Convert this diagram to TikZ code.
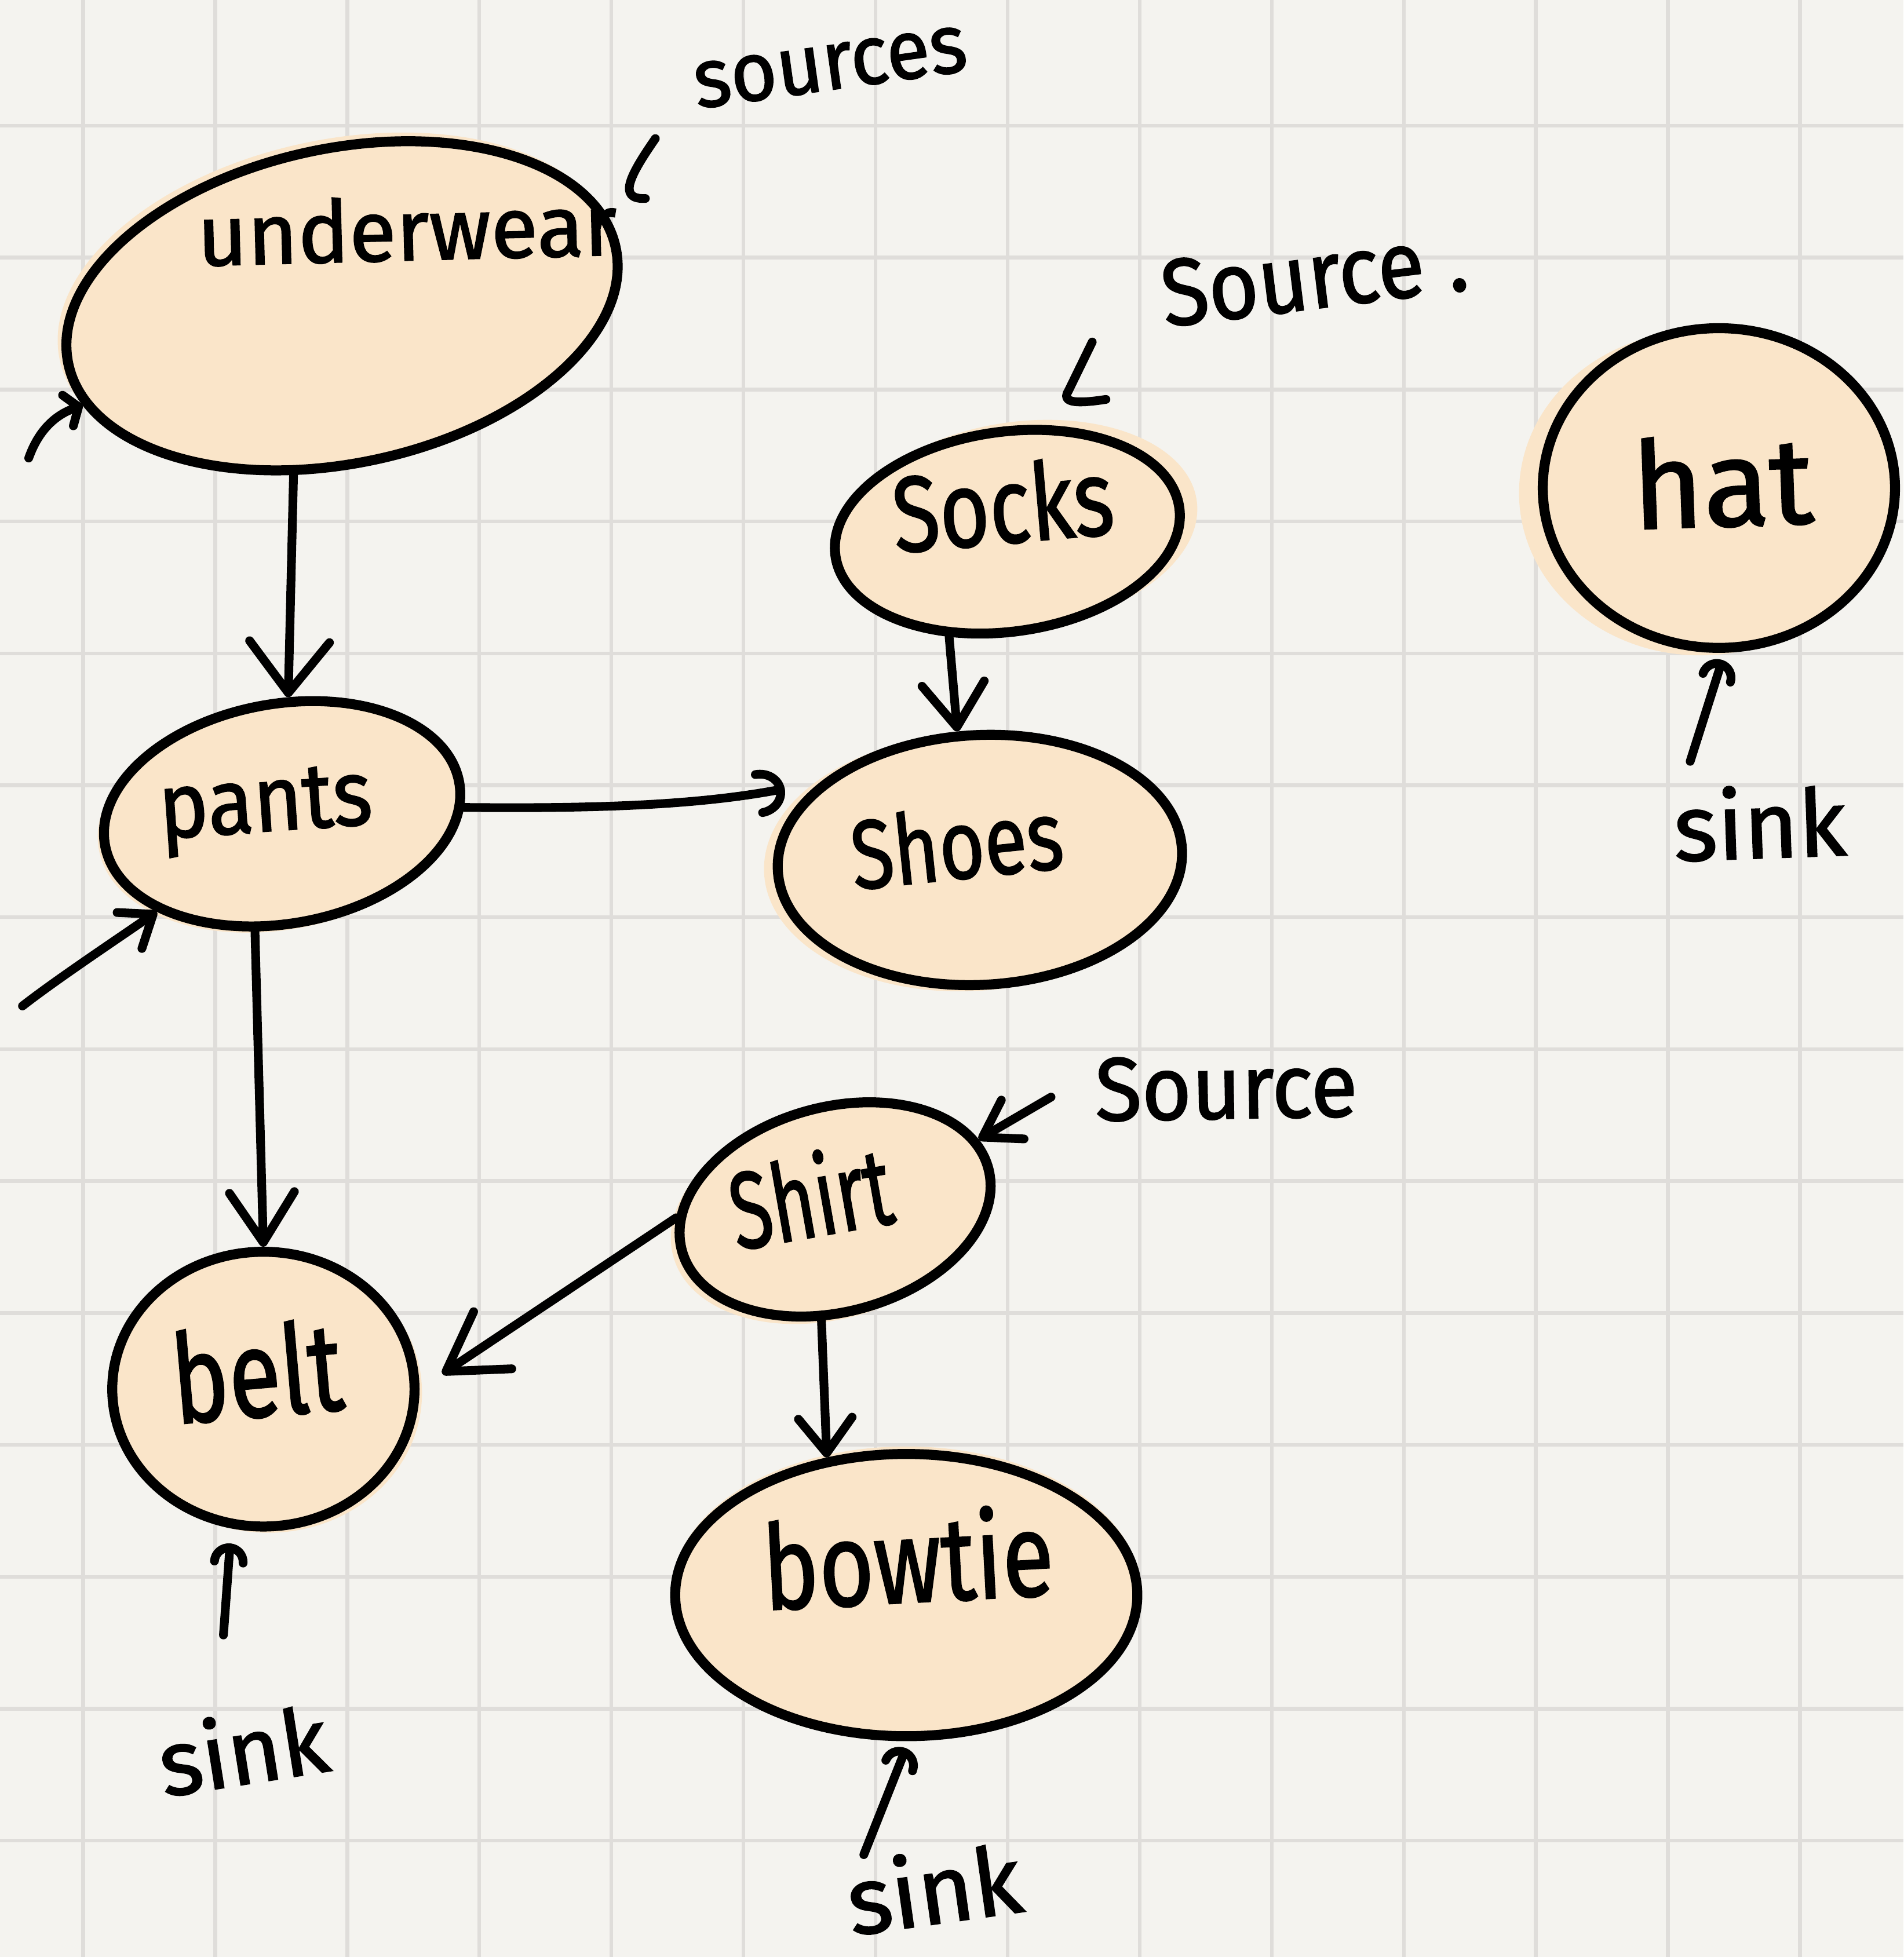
\documentclass[tikz,border=0pt]{standalone}
\usepackage{fontspec}
\setmainfont{Fira Sans}
\newfontfamily\handfont{Fira Sans}[FakeBold=1.5]
\usepackage{graphicx}
\usetikzlibrary{arrows.meta,shapes.geometric,calc}

\definecolor{paper}{HTML}{F4F3EF}
\definecolor{gridgray}{HTML}{DFDDDA}
\definecolor{peach}{HTML}{FAE5C9}

% a word set to a given width, stretched upright by a factor
\newcommand{\handtext}[3]{\scalebox{1}[#2]{\resizebox{#1}{!}{\handfont #3}}}

\tikzset{
  gridline/.style={draw=gridgray, line width=0.03cm},
  wash/.style={ellipse, fill=peach, inner sep=0pt, outer sep=0pt},
  outline/.style={ellipse, draw=black, fill=peach, line width=0.08cm, inner sep=0pt},
  ink/.style={draw=black, line width=0.07cm, line cap=round, line join=round},
  barb/.style 2 args={-{Straight Barb[length=#1,width=#2,round]}},
  arcbarb/.style 2 args={-{Arc Barb[length=#1,width=#2,round]}},
  word/.style={inner sep=0pt, anchor=base west, text=black},
}

\begin{document}
\begin{tikzpicture}[x=0.01cm, y=-0.01cm]
  % paper and grid
  \fill[paper] (0,0) rectangle (1525,1568);
  \useasboundingbox (0,0) rectangle (1525,1568);
  \foreach \k in {0,...,13} {
    \draw[gridline] ({66.6+105.8*\k},0) -- ({66.6+105.8*\k},1568);
    \draw[gridline] (0,{100.7+105.7*\k}) -- (1525,{100.7+105.7*\k});
  }

  % marker wash under each garment
  \node[wash, minimum width=4.54cm, minimum height=2.58cm, rotate=12] (underwear-wash) at (270,241) {};
  \node[wash, minimum width=2.92cm, minimum height=1.80cm, rotate=10] (pants-wash) at (223,655) {};
  \node[wash, minimum width=2.86cm, minimum height=1.66cm, rotate=8] (socks-wash) at (817,421) {};
  \node[wash, minimum width=3.30cm, minimum height=2.06cm, rotate=3] (shoes-wash) at (777,691) {};
  \node[wash, minimum width=2.90cm, minimum height=2.60cm] (hat-wash) at (1362,395) {};
  \node[wash, minimum width=2.58cm, minimum height=1.68cm, rotate=15] (shirt-wash) at (664,973) {};
  \node[wash, minimum width=2.46cm, minimum height=2.24cm] (belt-wash) at (215,1116) {};
  \node[wash, minimum width=3.74cm, minimum height=2.30cm] (bowtie-wash) at (726,1274) {};

  % garments
  \node[outline, minimum width=4.48cm, minimum height=2.52cm, rotate=12] (underwear) at (274,245) {};
  \node[outline, minimum width=2.88cm, minimum height=1.76cm, rotate=10] (pants) at (226,652) {};
  \node[outline, minimum width=2.78cm, minimum height=1.60cm, rotate=8] (socks) at (807,426) {};
  \node[outline, minimum width=3.24cm, minimum height=2.00cm, rotate=3] (shoes) at (785,689) {};
  \node[outline, minimum width=2.82cm, minimum height=2.56cm] (hat) at (1377,391) {};
  \node[outline, minimum width=2.54cm, minimum height=1.64cm, rotate=15] (shirt) at (669,969) {};
  \node[outline, minimum width=2.42cm, minimum height=2.20cm] (belt) at (211,1113) {};
  \node[outline, minimum width=3.70cm, minimum height=2.26cm] (bowtie) at (726,1278) {};

  % dependencies
  \draw[ink, barb={4.1mm}{6.4mm}] (underwear.242) -- (pants.77);
  \draw[ink, arcbarb={2.1mm}{3.8mm}] (pants.-8) .. controls (480,648) and (560,645) .. ($(shoes.156)+(-18,-4)$);
  \draw[ink, barb={3.5mm}{5mm}] (socks.233) -- (shoes.97);
  \draw[ink, barb={4mm}{5.2mm}] (pants.247) -- (belt.90);
  \draw[ink, barb={4.5mm}{5.5mm}, shorten >=2.2mm] (shirt.168) -- (belt.0);
  \draw[ink, barb={2.8mm}{4.3mm}] (shirt.248) -- (bowtie.120);

  % incoming strokes on the left
  \coordinate (underwear-in) at (23,367);
  \coordinate (pants-in) at (18,806);
  \draw[ink, barb={0.9mm}{2.6mm}] (underwear-in) .. controls (29,350) and (40,334) .. (underwear.189);
  \draw[ink, barb={2.3mm}{3.5mm}] (pants-in) .. controls (45,785) and (90,755) .. (pants.208);

  % source pointers
  \coordinate (sources-tail) at (525,111);
  \draw[ink] (sources-tail) .. controls (505,140) and (494,160) .. (517,159);
  \coordinate (socks-source-tail) at (875,274);
  \draw[ink] (socks-source-tail) -- (856,313) .. controls (849,324) and (866,323) .. (886,320);
  \coordinate (shirt-source-tail) at (842,879);
  \draw[ink, barb={2.8mm}{3.6mm}] (shirt-source-tail) -- (shirt.11);

  % sink pointers
  \coordinate (hat-sink) at (1354,610);
  \draw[ink, arcbarb={1.5mm}{3mm}, shorten >=0.6mm] (hat-sink) -- (hat.272);
  \coordinate (belt-sink) at (179,1310);
  \draw[ink, arcbarb={1.5mm}{3mm}, shorten >=1.2mm] (belt-sink) -- (belt.257);
  \coordinate (bowtie-sink) at (692,1486);
  \draw[ink, arcbarb={1.5mm}{3mm}, shorten >=0.6mm] (bowtie-sink) -- (bowtie.271);

  % garment names
  \node[word, rotate=1.5] (underwear-label) at (158,213) {\handtext{3.36cm}{1}{underwear}};
  \node[word, rotate=4] (pants-label) at (128,672) {\handtext{1.71cm}{1.1}{pants}};
  \node[word, rotate=5] (socks-label) at (717,443) {\handtext{1.77cm}{1.25}{Socks}};
  \node[word, rotate=6] (shoes-label) at (684,713) {\handtext{1.70cm}{1.25}{Shoes}};
  \node[word, rotate=2] (hat-label) at (1308,424) {\handtext{1.45cm}{1}{hat}};
  \node[word, rotate=10] (shirt-label) at (590,1002) {\handtext{1.30cm}{1.45}{Shirt}};
  \node[word, rotate=5] (belt-label) at (140,1141) {\handtext{1.37cm}{1.3}{belt}};
  \node[word, rotate=3] (bowtie-label) at (612,1290) {\handtext{2.33cm}{1.25}{bowtie}};

  % notes
  \node[word, rotate=8] (sources-note) at (558,87) {\handtext{2.20cm}{1.05}{sources}};
  \node[word, rotate=7] (socks-note) at (933,262) {\handtext{2.46cm}{1.1}{Source .}};
  \node[word, rotate=1] (shirt-note) at (877,898) {\handtext{2.10cm}{1.05}{Source}};
  \node[word, rotate=2] (hat-sink-note) at (1341,690) {\handtext{1.38cm}{1}{sink}};
  \node[word, rotate=9] (belt-sink-note) at (131,1440) {\handtext{1.36cm}{1}{sink}};
  \node[word, rotate=8] (bowtie-sink-note) at (682,1551) {\handtext{1.40cm}{1}{sink}};
\end{tikzpicture}
\end{document}
